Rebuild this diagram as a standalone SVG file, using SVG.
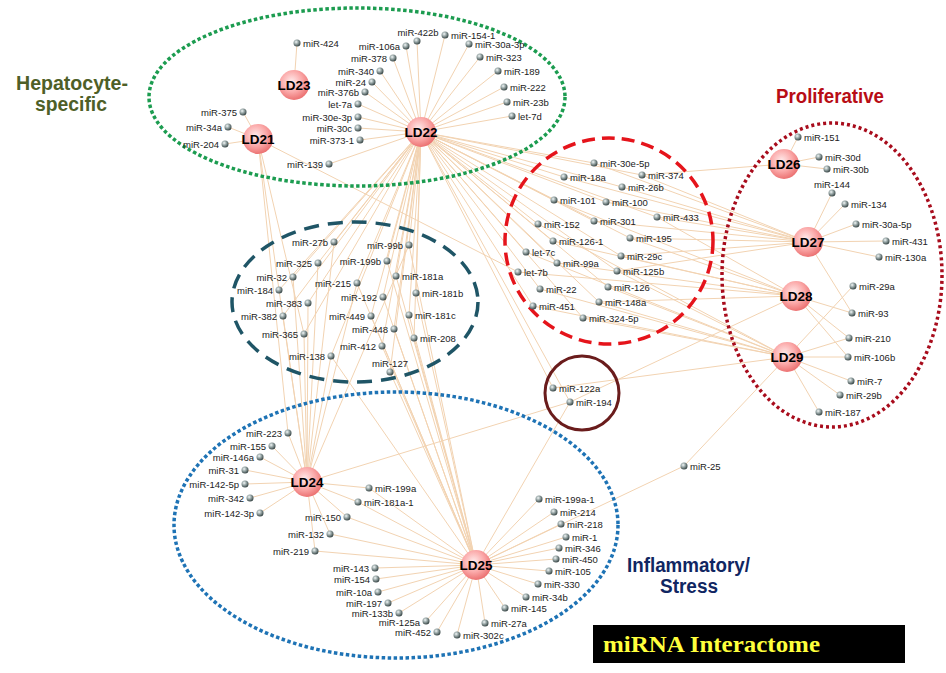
<svg xmlns="http://www.w3.org/2000/svg" width="946" height="673" viewBox="0 0 946 673">
<defs>
<radialGradient id="gh" cx="42%" cy="38%" r="65%"><stop offset="0" stop-color="#ffeaea"/><stop offset="0.55" stop-color="#fba9a9"/><stop offset="1" stop-color="#ea6d6d"/></radialGradient>
<radialGradient id="gd" cx="38%" cy="35%" r="70%"><stop offset="0" stop-color="#f4f8f8"/><stop offset="0.4" stop-color="#9fadad"/><stop offset="1" stop-color="#2f3d3d"/></radialGradient>
<style>
.e line{stroke:#f2d3b2;stroke-width:1}
.m{fill:url(#gd)}
.h{fill:url(#gh)}
.l{font-family:"Liberation Sans",Arial,sans-serif;font-size:9.5px;fill:#222}
.r{text-anchor:end}
.c{text-anchor:middle}
.hl{font-family:"Liberation Sans",Arial,sans-serif;font-size:13.5px;font-weight:bold;fill:#000;text-anchor:middle}
.t{font-family:"Liberation Sans",Arial,sans-serif;font-weight:bold;font-size:20px}
.g{fill:none}
</style>
</defs>
<rect width="946" height="673" fill="#fff"/>
<g id="connectors" class="e">
<line x1="294" y1="85" x2="297" y2="43"/>
<line x1="258" y1="139" x2="243" y2="112"/><line x1="258" y1="139" x2="228" y2="127"/><line x1="258" y1="139" x2="225" y2="144"/><line x1="258" y1="139" x2="518" y2="272"/><line x1="258" y1="139" x2="279" y2="290"/><line x1="258" y1="139" x2="304" y2="334"/><line x1="258" y1="139" x2="288" y2="433"/>
<line x1="421" y1="132" x2="417" y2="41"/><line x1="421" y1="132" x2="406" y2="46"/><line x1="421" y1="132" x2="393" y2="58"/><line x1="421" y1="132" x2="380" y2="71"/><line x1="421" y1="132" x2="372" y2="82"/><line x1="421" y1="132" x2="365" y2="92"/><line x1="421" y1="132" x2="358" y2="104"/><line x1="421" y1="132" x2="358" y2="117"/><line x1="421" y1="132" x2="358" y2="128"/><line x1="421" y1="132" x2="360" y2="140"/><line x1="421" y1="132" x2="329" y2="164"/><line x1="421" y1="132" x2="445" y2="35"/><line x1="421" y1="132" x2="469" y2="44"/><line x1="421" y1="132" x2="480" y2="57"/><line x1="421" y1="132" x2="498" y2="71"/><line x1="421" y1="132" x2="504" y2="87"/><line x1="421" y1="132" x2="507" y2="102"/><line x1="421" y1="132" x2="512" y2="116"/>
<line x1="421" y1="132" x2="594" y2="163"/><line x1="421" y1="132" x2="564" y2="177"/><line x1="421" y1="132" x2="642" y2="175"/><line x1="421" y1="132" x2="622" y2="187"/><line x1="421" y1="132" x2="554" y2="200"/><line x1="421" y1="132" x2="606" y2="202"/><line x1="421" y1="132" x2="657" y2="217"/><line x1="421" y1="132" x2="538" y2="224"/><line x1="421" y1="132" x2="594" y2="221"/><line x1="421" y1="132" x2="630" y2="238"/><line x1="421" y1="132" x2="553" y2="241"/><line x1="421" y1="132" x2="526" y2="252"/><line x1="421" y1="132" x2="621" y2="256"/><line x1="421" y1="132" x2="557" y2="263"/><line x1="421" y1="132" x2="617" y2="271"/><line x1="421" y1="132" x2="540" y2="289"/><line x1="421" y1="132" x2="608" y2="287"/><line x1="421" y1="132" x2="533" y2="306"/><line x1="421" y1="132" x2="599" y2="302"/><line x1="421" y1="132" x2="583" y2="318"/>
<line x1="421" y1="132" x2="553" y2="388"/><line x1="421" y1="132" x2="570" y2="402"/>
<line x1="421" y1="132" x2="334" y2="242"/><line x1="421" y1="132" x2="409" y2="245"/><line x1="421" y1="132" x2="318" y2="263"/><line x1="421" y1="132" x2="387" y2="261"/><line x1="421" y1="132" x2="293" y2="277"/><line x1="421" y1="132" x2="396" y2="276"/><line x1="421" y1="132" x2="357" y2="283"/><line x1="421" y1="132" x2="279" y2="290"/><line x1="421" y1="132" x2="416" y2="293"/><line x1="421" y1="132" x2="383" y2="297"/><line x1="421" y1="132" x2="308" y2="303"/><line x1="421" y1="132" x2="283" y2="316"/><line x1="421" y1="132" x2="371" y2="316"/><line x1="421" y1="132" x2="409" y2="315"/><line x1="421" y1="132" x2="394" y2="329"/><line x1="421" y1="132" x2="304" y2="334"/><line x1="421" y1="132" x2="414" y2="338"/><line x1="421" y1="132" x2="382" y2="346"/><line x1="421" y1="132" x2="331" y2="356"/><line x1="421" y1="132" x2="390" y2="372"/>
<line x1="784" y1="164" x2="642" y2="175"/><line x1="784" y1="164" x2="798" y2="137"/><line x1="784" y1="164" x2="819" y2="157"/><line x1="784" y1="164" x2="827" y2="169"/>
<line x1="808" y1="242" x2="642" y2="175"/><line x1="808" y1="242" x2="594" y2="163"/><line x1="808" y1="242" x2="622" y2="187"/><line x1="808" y1="242" x2="564" y2="177"/><line x1="808" y1="242" x2="606" y2="202"/><line x1="808" y1="242" x2="657" y2="217"/><line x1="808" y1="242" x2="594" y2="221"/><line x1="808" y1="242" x2="630" y2="238"/><line x1="808" y1="242" x2="621" y2="256"/><line x1="808" y1="242" x2="617" y2="271"/>
<line x1="808" y1="242" x2="832" y2="193"/><line x1="808" y1="242" x2="845" y2="204"/><line x1="808" y1="242" x2="856" y2="224"/><line x1="808" y1="242" x2="886" y2="241"/><line x1="808" y1="242" x2="879" y2="257"/><line x1="808" y1="242" x2="852" y2="313"/>
<line x1="796" y1="296" x2="554" y2="200"/><line x1="796" y1="296" x2="657" y2="217"/><line x1="796" y1="296" x2="630" y2="238"/><line x1="796" y1="296" x2="553" y2="241"/><line x1="796" y1="296" x2="621" y2="256"/><line x1="796" y1="296" x2="557" y2="263"/><line x1="796" y1="296" x2="518" y2="272"/><line x1="796" y1="296" x2="599" y2="302"/><line x1="796" y1="296" x2="852" y2="313"/><line x1="796" y1="296" x2="849" y2="338"/><line x1="796" y1="296" x2="848" y2="357"/><line x1="796" y1="296" x2="570" y2="402"/>
<line x1="787" y1="357" x2="538" y2="224"/><line x1="787" y1="357" x2="526" y2="252"/><line x1="787" y1="357" x2="617" y2="271"/><line x1="787" y1="357" x2="540" y2="289"/><line x1="787" y1="357" x2="608" y2="287"/><line x1="787" y1="357" x2="533" y2="306"/><line x1="787" y1="357" x2="599" y2="302"/><line x1="787" y1="357" x2="583" y2="318"/>
<line x1="787" y1="357" x2="853" y2="286"/><line x1="787" y1="357" x2="849" y2="338"/><line x1="787" y1="357" x2="848" y2="357"/><line x1="787" y1="357" x2="851" y2="381"/><line x1="787" y1="357" x2="840" y2="395"/><line x1="787" y1="357" x2="819" y2="412"/><line x1="787" y1="357" x2="684" y2="466"/><line x1="787" y1="357" x2="553" y2="388"/>
<line x1="307" y1="482" x2="334" y2="242"/><line x1="307" y1="482" x2="318" y2="263"/><line x1="307" y1="482" x2="293" y2="277"/><line x1="307" y1="482" x2="279" y2="290"/><line x1="307" y1="482" x2="308" y2="303"/><line x1="307" y1="482" x2="283" y2="316"/><line x1="307" y1="482" x2="304" y2="334"/><line x1="307" y1="482" x2="331" y2="356"/><line x1="307" y1="482" x2="357" y2="283"/><line x1="307" y1="482" x2="409" y2="245"/>
<line x1="476" y1="565" x2="409" y2="245"/><line x1="476" y1="565" x2="387" y2="261"/><line x1="476" y1="565" x2="396" y2="276"/><line x1="476" y1="565" x2="357" y2="283"/><line x1="476" y1="565" x2="416" y2="293"/><line x1="476" y1="565" x2="383" y2="297"/><line x1="476" y1="565" x2="371" y2="316"/><line x1="476" y1="565" x2="409" y2="315"/><line x1="476" y1="565" x2="394" y2="329"/><line x1="476" y1="565" x2="414" y2="338"/><line x1="476" y1="565" x2="382" y2="346"/><line x1="476" y1="565" x2="390" y2="372"/><line x1="476" y1="565" x2="331" y2="356"/>
<line x1="307" y1="482" x2="288" y2="433"/><line x1="307" y1="482" x2="272" y2="446"/><line x1="307" y1="482" x2="260" y2="457"/><line x1="307" y1="482" x2="245" y2="470"/><line x1="307" y1="482" x2="245" y2="484"/><line x1="307" y1="482" x2="250" y2="498"/><line x1="307" y1="482" x2="260" y2="513"/><line x1="307" y1="482" x2="369" y2="488"/><line x1="307" y1="482" x2="358" y2="502"/><line x1="307" y1="482" x2="347" y2="517"/><line x1="307" y1="482" x2="330" y2="534"/><line x1="307" y1="482" x2="315" y2="551"/><line x1="307" y1="482" x2="570" y2="402"/>
<line x1="476" y1="565" x2="369" y2="488"/><line x1="476" y1="565" x2="358" y2="502"/><line x1="476" y1="565" x2="347" y2="517"/><line x1="476" y1="565" x2="330" y2="534"/><line x1="476" y1="565" x2="315" y2="551"/><line x1="476" y1="565" x2="375" y2="568"/><line x1="476" y1="565" x2="376" y2="579"/><line x1="476" y1="565" x2="378" y2="592"/><line x1="476" y1="565" x2="388" y2="603"/><line x1="476" y1="565" x2="399" y2="613"/><line x1="476" y1="565" x2="426" y2="621"/><line x1="476" y1="565" x2="437" y2="632"/><line x1="476" y1="565" x2="457" y2="635"/><line x1="476" y1="565" x2="485" y2="623"/><line x1="476" y1="565" x2="505" y2="608"/><line x1="476" y1="565" x2="526" y2="597"/><line x1="476" y1="565" x2="538" y2="584"/><line x1="476" y1="565" x2="549" y2="571"/><line x1="476" y1="565" x2="556" y2="559"/><line x1="476" y1="565" x2="559" y2="548"/><line x1="476" y1="565" x2="566" y2="537"/><line x1="476" y1="565" x2="561" y2="524"/><line x1="476" y1="565" x2="554" y2="512"/><line x1="476" y1="565" x2="539" y2="499"/><line x1="476" y1="565" x2="570" y2="402"/><line x1="476" y1="565" x2="684" y2="466"/>
</g>
<g id="groups">
<ellipse class="g" cx="357" cy="97" rx="208" ry="89" stroke="#1c9c50" stroke-width="3.5" stroke-dasharray="3.5 2.5"/>
<ellipse class="g" cx="609" cy="241" rx="104" ry="103" stroke="#e5141b" stroke-width="3.5" stroke-dasharray="13 7"/>
<ellipse class="g" cx="832" cy="275" rx="110" ry="152" stroke="#a80c1c" stroke-width="3.5" stroke-dasharray="3 3"/>
<ellipse class="g" cx="355" cy="302" rx="123" ry="80" stroke="#1f5566" stroke-width="3.5" stroke-dasharray="15 9"/>
<ellipse class="g" cx="396" cy="525" rx="222" ry="133" stroke="#1e73b5" stroke-width="3.5" stroke-dasharray="3.5 2.5"/>
<circle class="g" cx="582" cy="393" r="37" stroke="#6a1c1c" stroke-width="3"/>
</g>
<g id="mirnas">
<g id="n-miR-424"><circle class="m" cx="297" cy="43" r="3.5"/><text class="l" x="303" y="46.5">miR-424</text></g>
<g id="n-miR-422b"><circle class="m" cx="417" cy="41" r="3.5"/><text class="l c" x="418" y="35.5">miR-422b</text></g>
<g id="n-miR-106a"><circle class="m" cx="406" cy="46" r="3.5"/><text class="l r" x="400" y="49.5">miR-106a</text></g>
<g id="n-miR-378"><circle class="m" cx="393" cy="58" r="3.5"/><text class="l r" x="387" y="61.5">miR-378</text></g>
<g id="n-miR-340"><circle class="m" cx="380" cy="71" r="3.5"/><text class="l r" x="374" y="74.5">miR-340</text></g>
<g id="n-miR-24"><circle class="m" cx="372" cy="82" r="3.5"/><text class="l r" x="366" y="85.5">miR-24</text></g>
<g id="n-miR-376b"><circle class="m" cx="365" cy="92" r="3.5"/><text class="l r" x="359" y="95.5">miR-376b</text></g>
<g id="n-let-7a"><circle class="m" cx="358" cy="104" r="3.5"/><text class="l r" x="352" y="107.5">let-7a</text></g>
<g id="n-miR-30e-3p"><circle class="m" cx="358" cy="117" r="3.5"/><text class="l r" x="352" y="120.5">miR-30e-3p</text></g>
<g id="n-miR-30c"><circle class="m" cx="358" cy="128" r="3.5"/><text class="l r" x="352" y="131.5">miR-30c</text></g>
<g id="n-miR-373-1"><circle class="m" cx="360" cy="140" r="3.5"/><text class="l r" x="354" y="143.5">miR-373-1</text></g>
<g id="n-miR-139"><circle class="m" cx="329" cy="164" r="3.5"/><text class="l r" x="323" y="167.5">miR-139</text></g>
<g id="n-miR-375"><circle class="m" cx="243" cy="112" r="3.5"/><text class="l r" x="237" y="115.5">miR-375</text></g>
<g id="n-miR-34a"><circle class="m" cx="228" cy="127" r="3.5"/><text class="l r" x="222" y="130.5">miR-34a</text></g>
<g id="n-miR-204"><circle class="m" cx="225" cy="144" r="3.5"/><text class="l r" x="219" y="147.5">miR-204</text></g>
<g id="n-miR-154-1"><circle class="m" cx="445" cy="35" r="3.5"/><text class="l" x="451" y="38.5">miR-154-1</text></g>
<g id="n-miR-30a-3p"><circle class="m" cx="469" cy="44" r="3.5"/><text class="l" x="475" y="47.5">miR-30a-3p</text></g>
<g id="n-miR-323"><circle class="m" cx="480" cy="57" r="3.5"/><text class="l" x="486" y="60.5">miR-323</text></g>
<g id="n-miR-189"><circle class="m" cx="498" cy="71" r="3.5"/><text class="l" x="504" y="74.5">miR-189</text></g>
<g id="n-miR-222"><circle class="m" cx="504" cy="87" r="3.5"/><text class="l" x="510" y="90.5">miR-222</text></g>
<g id="n-miR-23b"><circle class="m" cx="507" cy="102" r="3.5"/><text class="l" x="513" y="105.5">miR-23b</text></g>
<g id="n-let-7d"><circle class="m" cx="512" cy="116" r="3.5"/><text class="l" x="518" y="119.5">let-7d</text></g>
<g id="n-miR-30e-5p"><circle class="m" cx="594" cy="163" r="3.5"/><text class="l" x="600" y="166.5">miR-30e-5p</text></g>
<g id="n-miR-18a"><circle class="m" cx="564" cy="177" r="3.5"/><text class="l" x="570" y="180.5">miR-18a</text></g>
<g id="n-miR-374"><circle class="m" cx="642" cy="175" r="3.5"/><text class="l" x="648" y="178.5">miR-374</text></g>
<g id="n-miR-26b"><circle class="m" cx="622" cy="187" r="3.5"/><text class="l" x="628" y="190.5">miR-26b</text></g>
<g id="n-miR-101"><circle class="m" cx="554" cy="200" r="3.5"/><text class="l" x="560" y="203.5">miR-101</text></g>
<g id="n-miR-100"><circle class="m" cx="606" cy="202" r="3.5"/><text class="l" x="612" y="205.5">miR-100</text></g>
<g id="n-miR-433"><circle class="m" cx="657" cy="217" r="3.5"/><text class="l" x="663" y="220.5">miR-433</text></g>
<g id="n-miR-152"><circle class="m" cx="538" cy="224" r="3.5"/><text class="l" x="544" y="227.5">miR-152</text></g>
<g id="n-miR-301"><circle class="m" cx="594" cy="221" r="3.5"/><text class="l" x="600" y="224.5">miR-301</text></g>
<g id="n-miR-195"><circle class="m" cx="630" cy="238" r="3.5"/><text class="l" x="636" y="241.5">miR-195</text></g>
<g id="n-miR-126-1"><circle class="m" cx="553" cy="241" r="3.5"/><text class="l" x="559" y="244.5">miR-126-1</text></g>
<g id="n-let-7c"><circle class="m" cx="526" cy="252" r="3.5"/><text class="l" x="532" y="255.5">let-7c</text></g>
<g id="n-miR-29c"><circle class="m" cx="621" cy="256" r="3.5"/><text class="l" x="627" y="259.5">miR-29c</text></g>
<g id="n-miR-99a"><circle class="m" cx="557" cy="263" r="3.5"/><text class="l" x="563" y="266.5">miR-99a</text></g>
<g id="n-let-7b"><circle class="m" cx="518" cy="272" r="3.5"/><text class="l" x="524" y="275.5">let-7b</text></g>
<g id="n-miR-125b"><circle class="m" cx="617" cy="271" r="3.5"/><text class="l" x="623" y="274.5">miR-125b</text></g>
<g id="n-miR-22"><circle class="m" cx="540" cy="289" r="3.5"/><text class="l" x="546" y="292.5">miR-22</text></g>
<g id="n-miR-126"><circle class="m" cx="608" cy="287" r="3.5"/><text class="l" x="614" y="290.5">miR-126</text></g>
<g id="n-miR-451"><circle class="m" cx="533" cy="306" r="3.5"/><text class="l" x="539" y="309.5">miR-451</text></g>
<g id="n-miR-148a"><circle class="m" cx="599" cy="302" r="3.5"/><text class="l" x="605" y="305.5">miR-148a</text></g>
<g id="n-miR-324-5p"><circle class="m" cx="583" cy="318" r="3.5"/><text class="l" x="589" y="321.5">miR-324-5p</text></g>
<g id="n-miR-151"><circle class="m" cx="798" cy="137" r="3.5"/><text class="l" x="804" y="140.5">miR-151</text></g>
<g id="n-miR-30d"><circle class="m" cx="819" cy="157" r="3.5"/><text class="l" x="825" y="160.5">miR-30d</text></g>
<g id="n-miR-30b"><circle class="m" cx="827" cy="169" r="3.5"/><text class="l" x="833" y="172.5">miR-30b</text></g>
<g id="n-miR-144"><circle class="m" cx="832" cy="193" r="3.5"/><text class="l c" x="832" y="187.5">miR-144</text></g>
<g id="n-miR-134"><circle class="m" cx="845" cy="204" r="3.5"/><text class="l" x="851" y="207.5">miR-134</text></g>
<g id="n-miR-30a-5p"><circle class="m" cx="856" cy="224" r="3.5"/><text class="l" x="862" y="227.5">miR-30a-5p</text></g>
<g id="n-miR-431"><circle class="m" cx="886" cy="241" r="3.5"/><text class="l" x="892" y="244.5">miR-431</text></g>
<g id="n-miR-130a"><circle class="m" cx="879" cy="257" r="3.5"/><text class="l" x="885" y="260.5">miR-130a</text></g>
<g id="n-miR-29a"><circle class="m" cx="853" cy="286" r="3.5"/><text class="l" x="859" y="289.5">miR-29a</text></g>
<g id="n-miR-93"><circle class="m" cx="852" cy="313" r="3.5"/><text class="l" x="858" y="316.5">miR-93</text></g>
<g id="n-miR-210"><circle class="m" cx="849" cy="338" r="3.5"/><text class="l" x="855" y="341.5">miR-210</text></g>
<g id="n-miR-106b"><circle class="m" cx="848" cy="357" r="3.5"/><text class="l" x="854" y="360.5">miR-106b</text></g>
<g id="n-miR-7"><circle class="m" cx="851" cy="381" r="3.5"/><text class="l" x="857" y="384.5">miR-7</text></g>
<g id="n-miR-29b"><circle class="m" cx="840" cy="395" r="3.5"/><text class="l" x="846" y="398.5">miR-29b</text></g>
<g id="n-miR-187"><circle class="m" cx="819" cy="412" r="3.5"/><text class="l" x="825" y="415.5">miR-187</text></g>
<g id="n-miR-27b"><circle class="m" cx="334" cy="242" r="3.5"/><text class="l r" x="328" y="245.5">miR-27b</text></g>
<g id="n-miR-99b"><circle class="m" cx="409" cy="245" r="3.5"/><text class="l r" x="403" y="248.5">miR-99b</text></g>
<g id="n-miR-325"><circle class="m" cx="318" cy="263" r="3.5"/><text class="l r" x="312" y="266.5">miR-325</text></g>
<g id="n-miR-199b"><circle class="m" cx="387" cy="261" r="3.5"/><text class="l r" x="381" y="264.5">miR-199b</text></g>
<g id="n-miR-32"><circle class="m" cx="293" cy="277" r="3.5"/><text class="l r" x="287" y="280.5">miR-32</text></g>
<g id="n-miR-181a"><circle class="m" cx="396" cy="276" r="3.5"/><text class="l" x="402" y="279.5">miR-181a</text></g>
<g id="n-miR-215"><circle class="m" cx="357" cy="283" r="3.5"/><text class="l r" x="351" y="286.5">miR-215</text></g>
<g id="n-miR-184"><circle class="m" cx="279" cy="290" r="3.5"/><text class="l r" x="273" y="293.5">miR-184</text></g>
<g id="n-miR-181b"><circle class="m" cx="416" cy="293" r="3.5"/><text class="l" x="422" y="296.5">miR-181b</text></g>
<g id="n-miR-192"><circle class="m" cx="383" cy="297" r="3.5"/><text class="l r" x="377" y="300.5">miR-192</text></g>
<g id="n-miR-383"><circle class="m" cx="308" cy="303" r="3.5"/><text class="l r" x="302" y="306.5">miR-383</text></g>
<g id="n-miR-382"><circle class="m" cx="283" cy="316" r="3.5"/><text class="l r" x="277" y="319.5">miR-382</text></g>
<g id="n-miR-449"><circle class="m" cx="371" cy="316" r="3.5"/><text class="l r" x="365" y="319.5">miR-449</text></g>
<g id="n-miR-181c"><circle class="m" cx="409" cy="315" r="3.5"/><text class="l" x="415" y="318.5">miR-181c</text></g>
<g id="n-miR-448"><circle class="m" cx="394" cy="329" r="3.5"/><text class="l r" x="388" y="332.5">miR-448</text></g>
<g id="n-miR-365"><circle class="m" cx="304" cy="334" r="3.5"/><text class="l r" x="298" y="337.5">miR-365</text></g>
<g id="n-miR-208"><circle class="m" cx="414" cy="338" r="3.5"/><text class="l" x="420" y="341.5">miR-208</text></g>
<g id="n-miR-412"><circle class="m" cx="382" cy="346" r="3.5"/><text class="l r" x="376" y="349.5">miR-412</text></g>
<g id="n-miR-138"><circle class="m" cx="331" cy="356" r="3.5"/><text class="l r" x="325" y="359.5">miR-138</text></g>
<g id="n-miR-127"><circle class="m" cx="390" cy="372" r="3.5"/><text class="l c" x="390" y="366.5">miR-127</text></g>
<g id="n-miR-122a"><circle class="m" cx="553" cy="388" r="3.5"/><text class="l" x="559" y="391.5">miR-122a</text></g>
<g id="n-miR-194"><circle class="m" cx="570" cy="402" r="3.5"/><text class="l" x="576" y="405.5">miR-194</text></g>
<g id="n-miR-25"><circle class="m" cx="684" cy="466" r="3.5"/><text class="l" x="690" y="469.5">miR-25</text></g>
<g id="n-miR-223"><circle class="m" cx="288" cy="433" r="3.5"/><text class="l r" x="282" y="436.5">miR-223</text></g>
<g id="n-miR-155"><circle class="m" cx="272" cy="446" r="3.5"/><text class="l r" x="266" y="449.5">miR-155</text></g>
<g id="n-miR-146a"><circle class="m" cx="260" cy="457" r="3.5"/><text class="l r" x="254" y="460.5">miR-146a</text></g>
<g id="n-miR-31"><circle class="m" cx="245" cy="470" r="3.5"/><text class="l r" x="239" y="473.5">miR-31</text></g>
<g id="n-miR-142-5p"><circle class="m" cx="245" cy="484" r="3.5"/><text class="l r" x="239" y="487.5">miR-142-5p</text></g>
<g id="n-miR-342"><circle class="m" cx="250" cy="498" r="3.5"/><text class="l r" x="244" y="501.5">miR-342</text></g>
<g id="n-miR-142-3p"><circle class="m" cx="260" cy="513" r="3.5"/><text class="l r" x="254" y="516.5">miR-142-3p</text></g>
<g id="n-miR-199a"><circle class="m" cx="369" cy="488" r="3.5"/><text class="l" x="375" y="491.5">miR-199a</text></g>
<g id="n-miR-181a-1"><circle class="m" cx="358" cy="502" r="3.5"/><text class="l" x="364" y="505.5">miR-181a-1</text></g>
<g id="n-miR-150"><circle class="m" cx="347" cy="517" r="3.5"/><text class="l r" x="341" y="520.5">miR-150</text></g>
<g id="n-miR-132"><circle class="m" cx="330" cy="534" r="3.5"/><text class="l r" x="324" y="537.5">miR-132</text></g>
<g id="n-miR-219"><circle class="m" cx="315" cy="551" r="3.5"/><text class="l r" x="309" y="554.5">miR-219</text></g>
<g id="n-miR-143"><circle class="m" cx="375" cy="568" r="3.5"/><text class="l r" x="369" y="571.5">miR-143</text></g>
<g id="n-miR-154"><circle class="m" cx="376" cy="579" r="3.5"/><text class="l r" x="370" y="582.5">miR-154</text></g>
<g id="n-miR-10a"><circle class="m" cx="378" cy="592" r="3.5"/><text class="l r" x="372" y="595.5">miR-10a</text></g>
<g id="n-miR-197"><circle class="m" cx="388" cy="603" r="3.5"/><text class="l r" x="382" y="606.5">miR-197</text></g>
<g id="n-miR-133b"><circle class="m" cx="399" cy="613" r="3.5"/><text class="l r" x="393" y="617">miR-133b</text></g>
<g id="n-miR-125a"><circle class="m" cx="426" cy="621" r="3.5"/><text class="l r" x="420" y="625.5">miR-125a</text></g>
<g id="n-miR-452"><circle class="m" cx="437" cy="632" r="3.5"/><text class="l r" x="431" y="635.5">miR-452</text></g>
<g id="n-miR-302c"><circle class="m" cx="457" cy="635" r="3.5"/><text class="l" x="463" y="638.5">miR-302c</text></g>
<g id="n-miR-27a"><circle class="m" cx="485" cy="623" r="3.5"/><text class="l" x="491" y="626.5">miR-27a</text></g>
<g id="n-miR-145"><circle class="m" cx="505" cy="608" r="3.5"/><text class="l" x="511" y="611.5">miR-145</text></g>
<g id="n-miR-34b"><circle class="m" cx="526" cy="597" r="3.5"/><text class="l" x="532" y="600.5">miR-34b</text></g>
<g id="n-miR-330"><circle class="m" cx="538" cy="584" r="3.5"/><text class="l" x="544" y="587.5">miR-330</text></g>
<g id="n-miR-105"><circle class="m" cx="549" cy="571" r="3.5"/><text class="l" x="555" y="574.5">miR-105</text></g>
<g id="n-miR-450"><circle class="m" cx="556" cy="559" r="3.5"/><text class="l" x="562" y="562.5">miR-450</text></g>
<g id="n-miR-346"><circle class="m" cx="559" cy="548" r="3.5"/><text class="l" x="565" y="551.5">miR-346</text></g>
<g id="n-miR-1"><circle class="m" cx="566" cy="537" r="3.5"/><text class="l" x="572" y="540.5">miR-1</text></g>
<g id="n-miR-218"><circle class="m" cx="561" cy="524" r="3.5"/><text class="l" x="567" y="527.5">miR-218</text></g>
<g id="n-miR-214"><circle class="m" cx="554" cy="512" r="3.5"/><text class="l" x="560" y="515.5">miR-214</text></g>
<g id="n-miR-199a-1"><circle class="m" cx="539" cy="499" r="3.5"/><text class="l" x="545" y="502.5">miR-199a-1</text></g>
</g>
<g id="hubs">
<g id="LD21"><circle class="h" cx="258" cy="139" r="15"/><text class="hl" x="258" y="144">LD21</text></g>
<g id="LD22"><circle class="h" cx="421" cy="132" r="15"/><text class="hl" x="421" y="137">LD22</text></g>
<g id="LD23"><circle class="h" cx="294" cy="85" r="15"/><text class="hl" x="294" y="90">LD23</text></g>
<g id="LD24"><circle class="h" cx="307" cy="482" r="15"/><text class="hl" x="307" y="487">LD24</text></g>
<g id="LD25"><circle class="h" cx="476" cy="565" r="15"/><text class="hl" x="476" y="570">LD25</text></g>
<g id="LD26"><circle class="h" cx="784" cy="164" r="15"/><text class="hl" x="784" y="169">LD26</text></g>
<g id="LD27"><circle class="h" cx="808" cy="242" r="15"/><text class="hl" x="808" y="247">LD27</text></g>
<g id="LD28"><circle class="h" cx="796" cy="296" r="15"/><text class="hl" x="796" y="301">LD28</text></g>
<g id="LD29"><circle class="h" cx="787" cy="357" r="15"/><text class="hl" x="787" y="362">LD29</text></g>
</g>
<g id="titles">
<text class="t" x="16" y="90" fill="#4e5f27" textLength="112" lengthAdjust="spacingAndGlyphs">Hepatocyte-</text>
<text class="t" x="35" y="111" fill="#4e5f27" textLength="72" lengthAdjust="spacingAndGlyphs">specific</text>
<text class="t" x="776" y="103" fill="#b80d15" textLength="108" lengthAdjust="spacingAndGlyphs">Proliferative</text>
<text class="t" x="627" y="572" fill="#102662" textLength="123" lengthAdjust="spacingAndGlyphs">Inflammatory/</text>
<text class="t" x="660" y="593" fill="#102662" textLength="58" lengthAdjust="spacingAndGlyphs">Stress</text>
</g>
<g id="legend">
<rect x="593" y="625" width="312" height="38" fill="#000"/>
<text x="603" y="652" font-family="'Liberation Serif','Times New Roman',serif" font-weight="bold" font-size="23" fill="#ffff3c" textLength="217" lengthAdjust="spacingAndGlyphs">miRNA Interactome</text>
</g>
</svg>
